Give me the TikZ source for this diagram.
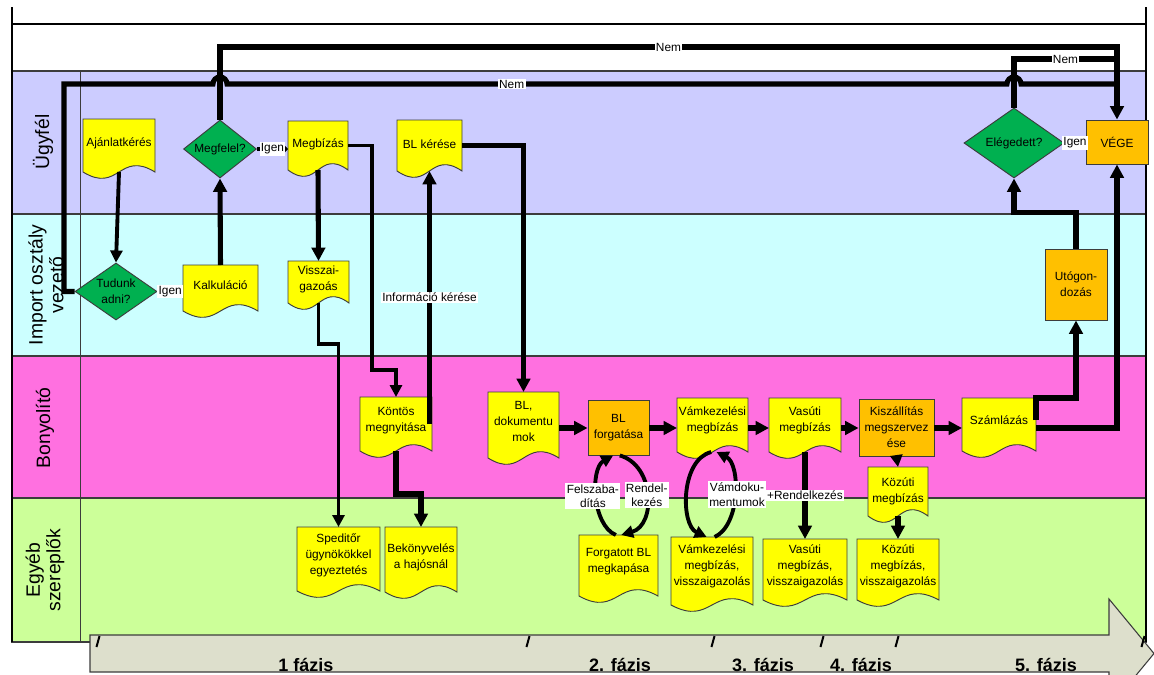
\documentclass[tikz,border=0pt]{standalone}
\usepackage{fontspec}
\setmainfont{Liberation Sans}
\usetikzlibrary{arrows.meta,calc,shapes.geometric}
\definecolor{laneA}{RGB}{204,204,255}
\definecolor{laneB}{RGB}{204,255,255}
\definecolor{laneC}{RGB}{255,112,224}
\definecolor{laneD}{RGB}{204,255,153}
\definecolor{docY}{RGB}{255,255,0}
\definecolor{procO}{RGB}{255,192,0}
\definecolor{decG}{RGB}{0,176,80}
\definecolor{bandC}{RGB}{221,223,204}
\definecolor{edgeC}{RGB}{60,60,60}
\tikzset{
  docfill/.style={fill=docY, draw=edgeC, line width=0.7pt},
  anchorbox/.style={rectangle, inner sep=0pt, outer sep=0pt, draw=none},
  txt/.style={font=\fontsize{8.9}{12}\selectfont, align=center, inner sep=0pt},
  proc/.style={rectangle, draw=edgeC, fill=procO, line width=0.7pt, inner sep=0pt, align=center, font=\fontsize{8.9}{12}\selectfont},
  dec/.style={diamond, draw=edgeC, fill=decG, line width=0.7pt, inner sep=0pt},
  conn/.style={line width=3.8pt},
  arr/.style={conn, -{Triangle[length=10pt,width=10pt]}},
  arrT/.style={line width=2.9pt, -{Triangle[length=9pt,width=9pt]}},
  arrS/.style={line width=2.9pt, -{Triangle[length=3pt,width=6pt]}},
  lbl/.style={fill=white, inner sep=1pt, font=\fontsize{8.9}{11}\selectfont, align=center},
  lanelbl/.style={font=\fontsize{14.5}{15.5}\selectfont, align=center, rotate=90},
  phaselbl/.style={font=\bfseries\fontsize{13.5}{15}\selectfont},
  phasetick/.style={line width=1.5pt},
  lanefill/.style={draw=edgeC, line width=0.9pt}
}
\newcommand{\docnode}[7]{%
  \path[docfill] (#2,#3) -- (#4,#3) -- (#4,#5) .. controls ({(#2+#4)/2},{#5-22}) and ({(#2+#4)/2},{#5+22}) .. (#2,#5) -- cycle;
  \node[anchorbox, minimum width={(#4-#2)*0.75pt}, minimum height={(#5-#3)*0.75pt}] (#1) at ({(#2+#4)/2},{(#3+#5)/2}) {};
  \node[txt] at ({(#2+#4)/2},#6) {#7};
}
\begin{document}
\begin{tikzpicture}[x=0.75pt,y=-0.75pt]
\useasboundingbox (0,0) rectangle (1154,675);
\clip (0,0) rectangle (1154,675);
\fill[white] (0,0) rectangle (1154,675);
% lanes
\filldraw[lanefill, fill=laneA] (12,71) rectangle (1146,214);
\filldraw[lanefill, fill=laneB] (12,214) rectangle (1146,356);
\filldraw[lanefill, fill=laneC] (12,356) rectangle (1146,498);
\filldraw[lanefill, fill=laneD] (12,498) rectangle (1146,642);
\draw[edgeC, line width=0.6pt] (80,71) -- (80,642);
\draw[black, line width=0.9pt] (12,7) -- (12,642) (1146,7) -- (1146,642) (12,24) -- (1146,24);
% lane labels
\node[lanelbl] (lA) at (43,142) {Ügyfél};
\node[lanelbl] (lB) at (46,285) {Import osztály\\vezető};
\node[lanelbl] (lC) at (45,428) {Bonyolító};
\node[lanelbl] (lD) at (45,570) {Egyéb\\szereplők};
% phase band
\filldraw[fill=bandC, draw=edgeC, line width=0.8pt] (90,635) -- (1109,635) -- (1109,599) -- (1154,653.5) -- (1109,708) -- (1109,672) -- (90,672) -- cycle;
\foreach \tx in {98,528,713,822,897,1143}
  \draw[phasetick] (\tx-1.5,647) -- (\tx+1.5,636);
\node[phaselbl] (p1) at (306,665) {1 fázis};
\node[phaselbl] (p2) at (620,665) {2. fázis};
\node[phaselbl] (p3) at (763,665) {3. fázis};
\node[phaselbl] (p4) at (861,665) {4. fázis};
\node[phaselbl] (p5) at (1046,665) {5. fázis};
% decisions
\node[dec, minimum width=54.75pt, minimum height=43.5pt] (megfelel) at (220,149) {};
\node[txt] at (megfelel) {Megfelel?};
\node[dec, minimum width=61.5pt, minimum height=42.75pt] (tudunk) at (116,291.5) {};
\node[txt] at (tudunk) {Tudunk\\adni?};
\node[dec, minimum width=75pt, minimum height=52.5pt] (eleg) at (1014,143) {};
\node[txt] at (eleg) {Elégedett?};
% processes
\node[proc, minimum width=46.5pt, minimum height=33pt] (vege) at (1117,142) {VÉGE};
\node[proc, minimum width=46.5pt, minimum height=53.25pt] (utogon) at (1076,284.5) {Utógon-\\dozás};
\node[proc, minimum width=45.75pt, minimum height=41.25pt] (blforg) at (618.5,427.5) {BL\\forgatása};
\node[proc, minimum width=56.25pt, minimum height=42.75pt] (kisz) at (896.5,427.5) {Kiszállítás\\megszervez\\ése};
% documents
\docnode{ajanl}{83}{119}{155}{172}{143}{Ajánlatkérés}
\docnode{megbizas}{288}{121}{348}{170}{144}{Megbízás}
\docnode{blkeres}{397}{120}{462}{171}{144}{BL kérése}
\docnode{kalk}{183}{265}{258}{311}{285}{Kalkuláció}
\docnode{vissza}{288}{261}{349}{303}{279}{Visszai-\\gazoás}
\docnode{kontos}{360}{397}{432}{451}{421}{Köntös\\megnyitása}
\docnode{bldok}{488}{392}{559}{458}{421}{BL,\\dokumentu\\mok}
\docnode{vamm}{677}{398}{748}{452}{420}{Vámkezelési\\megbízás}
\docnode{vasm}{769}{398}{841}{452}{420}{Vasúti\\megbízás}
\docnode{szaml}{962}{398}{1036}{451}{420}{Számlázás}
\docnode{kozm}{868}{467}{928}{516}{491}{Közúti\\megbízás}
\docnode{sped}{297}{527}{380}{591}{555}{Speditőr\\ügynökökkel\\egyeztetés}
\docnode{bekony}{385}{527}{457}{592}{557}{Bekönyvelés\\a hajósnál}
\docnode{forgbl}{579}{535}{658}{596}{562}{Forgatott BL\\megkapása}
\docnode{vamv}{671}{537}{753}{605}{566}{Vámkezelési\\megbízás,\\visszaigazolás}
\docnode{vasv}{763}{539}{847}{600}{566}{Vasúti\\megbízás,\\visszaigazolás}
\docnode{kozv}{857}{539}{939}{600}{566}{Közúti\\megbízás,\\visszaigazolás}
% helper coordinates
\coordinate (top1) at (0,47);
\coordinate (top2) at (0,84);
\coordinate (top3) at (0,59);
\coordinate (xl) at (64,0);
\coordinate (row) at (0,428);
% top connectors
\draw[conn] (tudunk.west) -| (xl |- top2)
  -- ($(megfelel.north |- top2)+(-7,0)$) arc[start angle=180,end angle=0,radius=5.25pt]
  -- node[lbl, pos=0.365] {Nem} ($(eleg.north |- top2)+(-7,0)$) arc[start angle=180,end angle=0,radius=5.25pt]
  -- (vege.north |- top2);
\draw[arr] (megfelel.north) -- (megfelel.north |- top1) -- node[lbl] {Nem} (vege.north |- top1) -- (vege.north);
\draw[conn] (eleg.north) |- node[lbl, pos=0.75] {Nem} (vege.north |- top3);
% Igen connectors
\draw[arrS] (tudunk.east) -- node[lbl] {Igen} (tudunk.east -| kalk.west);
\draw[arrS] (megfelel.east) -- node[lbl] {Igen} (megfelel.east -| megbizas.west);
\draw[arrS] (eleg.east) -- node[lbl] {Igen} (eleg.east -| vege.west);
% flow
\draw[arrT] (ajanl.south) -- (tudunk.north);
\draw[arr] (kalk.north) -- (megfelel.south);
\draw[arr] (megbizas.south) -- (vissza.north);
\draw[arrT] (megbizas.east) -- ++(24,0) |- ($(kontos.north)+(0,-27)$) -- (kontos.north);
\draw[arrT] (vissza.south) -- ++(0,41) -| (sped.north);
\draw[arr] (blkeres.south |- kontos.east) -- node[lbl] {Információ kérése} (blkeres.south);
\draw[arr] (kontos.south) -- ++(0,43) -| (bekony.north);
\draw[arr] (blkeres.east) -| (bldok.north);
\draw[arr] (bldok.east |- row) -- (blforg.west |- row);
\draw[arr] (blforg.east |- row) -- (vamm.west |- row);
\draw[arr] (vamm.east |- row) -- (vasm.west |- row);
\draw[arr] (vasm.east |- row) -- (kisz.west |- row);
\draw[arr] (kisz.east |- row) -- (szaml.west |- row);
\draw[arr] ($(szaml.east |- row)+(0,-8)$) -- (szaml.north east) -| (utogon.south);
\draw[arr] (szaml.east |- row) -| (vege.south);
\draw[arr] (utogon.north) -- ++(0,-36) -| (eleg.south);
\draw[arrT] (kisz.south) -- (kozm.north);
\draw[arr] (kozm.south) -- (kozv.north);
\draw[arr] (vasm.south) -- node[lbl] {+Rendelkezés} (vasv.north);
% loops
\draw[arrT] ([xshift=-2pt]forgbl.north) .. controls +(-24,-10) and +(-23,13) .. ([xshift=-4pt]blforg.south) node[lbl, pos=0.5, xshift=-3pt] {Felszaba-\\dítás};
\draw[arrT] ([xshift=1pt]blforg.south) .. controls +(35,10) and +(35,-10) .. ([xshift=2pt]forgbl.north) node[lbl, pos=0.5, xshift=0pt] {Rendel-\\kezés};
\draw[arrT] ([xshift=-1pt]vamm.south) .. controls +(-31,8) and +(-26,-12) .. ([xshift=-4pt]vamv.north);
\draw[arrT] ([xshift=2pt]vamv.north) .. controls +(26,-12) and +(24,12) .. ([xshift=3pt]vamm.south) node[lbl, pos=0.5, xshift=2pt] {Vámdoku-\\mentumok};
\end{tikzpicture}
\end{document}
